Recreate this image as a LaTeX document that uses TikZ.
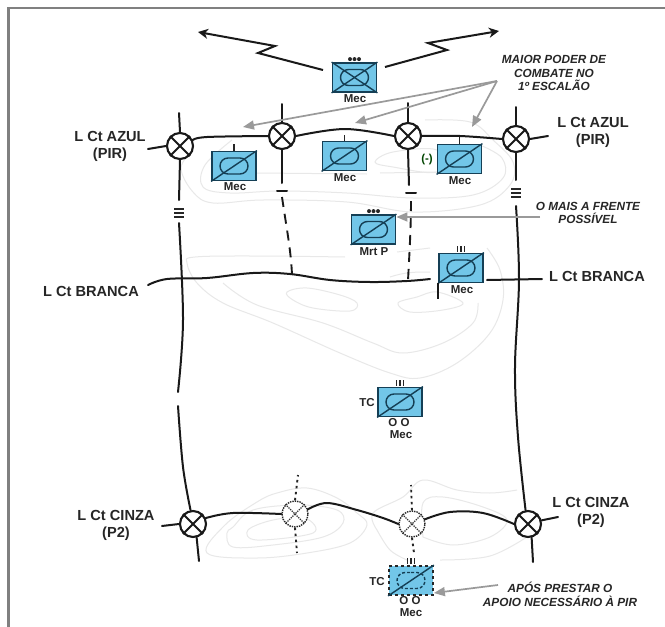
\documentclass[tikz,border=0pt]{standalone}
\usepackage{fontspec}
\setmainfont{Liberation Sans}
\usetikzlibrary{arrows.meta,shapes.misc}
\definecolor{unitblue}{HTML}{72C6E8}
\definecolor{unitline}{HTML}{153F55}
\definecolor{contour}{HTML}{E8E8E8}
\definecolor{inkc}{HTML}{262626}
\definecolor{pointer}{HTML}{9A9A9A}
\tikzset{
  ln/.style={line width=2pt,draw=black!90,line cap=round},
  topo/.style={line width=1pt,draw=contour},
  xcirc/.style={circle,draw=black!90,line width=2.1pt,minimum size=26pt,inner sep=0pt,fill=white},
  dcirc/.style={circle,draw=black!85,line width=1.4pt,densely dotted,minimum size=26pt,inner sep=0pt,fill=white},
  unitbox/.style={rectangle,draw=unitline,line width=1.8pt,fill=unitblue,minimum width=44pt,minimum height=29pt,inner sep=0pt},
  dunitbox/.style={unitbox,draw=black!85,dashed},
  ovalbox/.style={rounded rectangle,draw=unitline,line width=1.4pt,minimum width=28pt,minimum height=16pt,inner sep=0pt},
  lbl/.style={font=\fontsize{14.6}{17}\selectfont\bfseries,text=inkc,align=center,inner sep=0pt},
  note/.style={font=\fontsize{11.8}{13.8}\selectfont\bfseries\itshape,text=inkc,align=center,inner sep=0pt},
  sm/.style={font=\fontsize{11.5}{12.5}\selectfont\bfseries,text=inkc,align=center,inner sep=0pt},
  ptr/.style={line width=1.7pt,draw=pointer,-{Triangle[length=11pt,width=9pt,fill=pointer]}},
  zig/.style={line width=2pt,draw=black!90,-{Stealth[length=10pt,width=10pt,inset=3pt]}},
  dsh/.style={line width=1.9pt,draw=black!90,dash pattern=on 10pt off 7pt},
  dtd/.style={line width=1.9pt,draw=black!85,dash pattern=on 2.5pt off 3.5pt},
}
\newcommand{\xunit}[3]{%
  \node[unitbox] (#1) at (#2,#3) {};
  \node[ovalbox] (#1o) at (#1) {};
  \draw[line width=1.4pt,draw=unitline] (#1.south west) -- (#1.north east);
}
\newcommand{\threebars}[2]{%
  \foreach \q in {-3.5,0,3.5}{\draw[line width=1.6pt,draw=black!85] ([xshift=\q pt,yshift=1pt]#1) -- ([xshift=\q pt,yshift=#2 pt]#1);}
}
\newcommand{\threedots}[1]{%
  \foreach \q in {-4.5,0,4.5}{\fill[black!85] ([xshift=\q pt,yshift=3pt]#1) circle (2pt);}
}
\newcommand{\crossed}[1]{%
  \draw[line width=2.1pt,draw=black!90] (#1.45) -- (#1.225) (#1.135) -- (#1.315);
}
\newcommand{\dcrossed}[1]{%
  \draw[line width=1.3pt,draw=black!80,densely dotted] (#1.45) -- (#1.225) (#1.135) -- (#1.315);
}
\begin{document}
\begin{tikzpicture}[x=1pt,y=-1pt]
\useasboundingbox (0,0) rectangle (665,627);
\fill[white] (0,0) rectangle (665,627);
\draw[line width=2.8pt,draw=black!50] (8.5,627) -- (8.5,8) -- (665,8);

% terrain contours
\draw[topo] plot[smooth,tension=.6] coordinates {(193,150) (181,168) (193,192) (213,203) (263,200) (347,202) (413,212) (480,205) (510,185) (513,162) (493,140) (470,122) (425,120)};
\draw[topo] plot[smooth,tension=.6] coordinates {(232,140) (205,165) (203,187) (230,193) (280,191) (347,193) (413,198) (473,195) (503,178) (502,158) (480,145)};
\draw[topo] plot[smooth cycle,tension=.6] coordinates {(375,162) (393,152) (437,150) (437,172) (393,167)};
\draw[topo] (257,173) -- (367,174) (380,173) -- (437,172);
\draw[topo] plot[smooth,tension=.6] coordinates {(345,257) (257,256) (195,257) (187,263) (197,283) (223,303) (273,323) (340,353) (390,373) (420,378) (457,363) (490,333) (503,300) (500,270) (487,248)};
\draw[topo] plot[smooth,tension=.6] coordinates {(223,283) (257,305) (323,323) (373,343) (403,353) (443,343) (473,323) (478,303)};
\draw[topo] plot[smooth cycle,tension=.6] coordinates {(287,292) (307,288) (340,295) (357,303) (350,311) (313,308) (293,300)};
\draw[topo] plot[smooth cycle,tension=.6] coordinates {(398,303) (417,297) (437,292) (463,303) (443,310) (410,312)};
\draw[topo] (397,252) -- (430,248) (390,277) .. controls (405,272) and (415,272) .. (430,272);
\draw[topo] plot[smooth cycle,tension=.6] coordinates {(257,502) (277,493) (307,488) (337,498) (357,513) (367,525) (350,543) (307,553) (257,558) (207,553) (225,525)};
\draw[topo] plot[smooth cycle,tension=.6] coordinates {(227,533) (233,527) (253,510) (300,505) (337,510) (343,523) (323,537) (273,545) (233,547)};
\draw[topo] plot[smooth cycle,tension=.6] coordinates {(248,530) (273,520) (305,518) (313,533) (257,540)};
\draw[topo] plot[smooth,tension=.6] coordinates {(377,530) (373,513) (403,497) (423,480) (457,490) (490,493) (517,490)};
\draw[topo] plot[smooth,tension=.6] coordinates {(377,530) (390,550) (407,560)};
\draw[topo] plot[smooth,tension=.6] coordinates {(423,537) (423,503) (443,497) (483,507) (507,520) (490,537) (453,545) (423,537)};
\draw[topo] plot[smooth,tension=.6] coordinates {(440,560) (490,556) (530,535)};

% control measures: crossing points
\node[xcirc] (C1) at (180,146) {};
\node[xcirc] (C2) at (282,136) {};
\node[xcirc] (C3) at (408,136) {};
\node[xcirc] (C4) at (516,139) {};
\node[xcirc] (C5) at (193,524) {};
\node[dcirc] (D1) at (295,514) {};
\node[dcirc] (D2) at (412,524) {};
\node[xcirc] (C6) at (528,524) {};
\crossed{C1}\crossed{C2}\crossed{C3}\crossed{C4}\crossed{C5}\crossed{C6}
\dcrossed{D1}\dcrossed{D2}

% AZUL line
\draw[ln] (C1.west) -- (148,149);
\draw[ln] plot[smooth,tension=.6] coordinates {(C1.25) (207,137) (C2.west)};
\draw[ln] plot[smooth,tension=.6] coordinates {(C2.east) (345,129) (C3.west)};
\draw[ln] plot[smooth,tension=.6] coordinates {(C3.east) (460,136) (C4.west)};
\draw[ln] (C4.east) -- (548,136);

% boundaries
\draw[ln] (C1.north) -- (179,113);
\draw[ln] (C1.south) -- (179,200);
\coordinate (B1) at (179,213);
\foreach \q in {-4,0,4}{\draw[line width=1.6pt,draw=black!85] ([xshift=-5pt,yshift=\q pt]B1) -- ([xshift=5pt,yshift=\q pt]B1);}
\draw[ln] plot[smooth,tension=.6] coordinates {(179,223) (183,320) (178,392)};
\draw[ln] plot[smooth,tension=.6] coordinates {(178,406) (183,467) (C5.100)};
\draw[ln] plot[smooth,tension=.6] coordinates {(C5.-75) (199,561)};

\draw[ln] (C2.north) -- (282,104);
\draw[ln] (C2.south) -- (282,183);
\coordinate (B2) at (282,191);
\draw[ln] ([xshift=-5pt]B2) -- ([xshift=5pt]B2);
\draw[dsh] (282,197) .. controls (286,225) and (291,250) .. (292,275);

\draw[ln] (C3.north) -- (408,103);
\draw[ln] (C3.south) -- (409,185);
\coordinate (B3) at (411,193);
\draw[ln] ([xshift=-5pt]B3) -- ([xshift=5pt]B3);
\draw[dsh] (411,201) .. controls (411,230) and (409,260) .. (408,281);

\draw[ln] (C4.north) -- (516,107);
\draw[ln] (C4.south) -- (516,180);
\coordinate (B4) at (516,193);
\foreach \q in {-4,0,4}{\draw[line width=1.6pt,draw=black!85] ([xshift=-5pt,yshift=\q pt]B4) -- ([xshift=5pt,yshift=\q pt]B4);}
\draw[ln] plot[smooth,tension=.6] coordinates {(516,206) (519,280) (515,367) (518,437) (C6.100)};
\draw[ln] plot[smooth,tension=.6] coordinates {(C6.-75) (533,562)};

% BRANCA line
\draw[ln] plot[smooth,tension=.6] coordinates {(148,285) (167,279) (207,278) (253,273) (290,274) (330,280) (370,282) (407,281) (430,279)};
\draw[ln] (487,280) -- (542,279);

% CINZA line
\draw[ln] (C5.west) -- (162,526);
\draw[ln] plot[smooth,tension=.6] coordinates {(C5.25) (233,513) (D1.west)};
\draw[ln] plot[smooth,tension=.6] coordinates {(D1.20) (327,503) (357,510) (383,518) (D2.west)};
\draw[ln] plot[smooth,tension=.6] coordinates {(D2.20) (450,512) (483,513) (C6.west)};
\draw[ln] (C6.15) -- (558,517);
\draw[dtd] (D1.north) -- (298,475);
\draw[dtd] (D1.south) -- (297,553);
\draw[dtd] (D2.north) -- (411,485);
\draw[dtd] (D2.south) -- (414,553);

% units
\xunit{U0}{354.5}{77.5}
\draw[line width=1.4pt,draw=unitline] (U0.north west) -- (U0.south east);
\threedots{U0.north}
\node[sm] (tU0) at (355,99) {Mec};
\xunit{U1}{234}{166}
\draw[line width=1.6pt,draw=black!85] (U1.north) -- ++(0,-7);
\node[sm] (tU1) at (235,187) {Mec};
\xunit{U2}{344.5}{156}
\draw[line width=1.6pt,draw=black!85] (U2.north) -- ++(0,-6);
\node[sm] (tU2) at (345,178) {Mec};
\xunit{U3}{459.5}{159}
\draw[line width=1.6pt,draw=black!85] (U3.north) -- ++(0,-7);
\node[sm,text=black!55!green!60!black] (tm) at (427,160) {(-)};
\node[sm] (tU3) at (460,181) {Mec};
\xunit{U4}{373.5}{229.5}
\threedots{U4.north}
\node[sm] (tU4) at (374,252) {Mrt P};
\xunit{U5}{461}{268}
\threebars{U5.north}{7}
\draw[line width=1.7pt,draw=black!90] (U5.south west) -- ++(0,16);
\node[sm] (tU5) at (462,290) {Mec};
\xunit{U6}{400}{402}
\threebars{U6.north}{7}
\node[sm] (tU6a) at (367,403) {TC};
\node[sm] (tU6b) at (399,423) {O O};
\node[sm] (tU6c) at (401,435) {Mec};
\node[dunitbox] (U7) at (411,580.5) {};
\node[ovalbox,densely dashed] (U7o) at (U7) {};
\draw[line width=1.4pt,draw=unitline] (U7.south west) -- (U7.north east);
\threebars{U7.north}{7}
\node[sm] (tU7a) at (377,582) {TC};
\node[sm] (tU7b) at (410,601) {O O};
\node[sm] (tU7c) at (411,613) {Mec};

% lightning arrows
\draw[zig] (323,70) -- (258,53) -- (275,46) -- (198,32);
\draw[zig] (385,67) -- (447,50) -- (428,43) -- (499,31);

% notes
\node[note] (n1) at (554,73) {MAIOR PODER DE\\COMBATE NO\\1º ESCALÃO};
\node[note] (n2) at (588,213) {O MAIS A FRENTE\\POSSÍVEL};
\node[note] (n3) at (560,594) {APÓS PRESTAR O\\APOIO NECESSÁRIO À PIR};

% pointers
\coordinate (p1) at (497,81);
\coordinate (p1a) at (243,127);
\coordinate (p1b) at (355,123);
\coordinate (p1c) at (472,127);
\draw[ptr] (p1) -- (p1a);
\draw[ptr] (p1) -- (p1b);
\draw[ptr] (p1) -- (p1c);
\draw[ptr] (540,217) -- (U4.east |- 0,217);
\draw[ptr] (498,585) -- (U7.east |- 0,593);

% labels
\node[lbl] (a1) at (110,146) {L Ct AZUL\\(PIR)};
\node[lbl] (a2) at (593,132) {L Ct AZUL\\(PIR)};
\node[lbl] (b1) at (91,291) {L Ct BRANCA};
\node[lbl] (b2) at (597,276) {L Ct BRANCA};
\node[lbl] (c1) at (116,525) {L Ct CINZA\\(P2)};
\node[lbl] (c2) at (591,512) {L Ct CINZA\\(P2)};
\end{tikzpicture}
\end{document}
